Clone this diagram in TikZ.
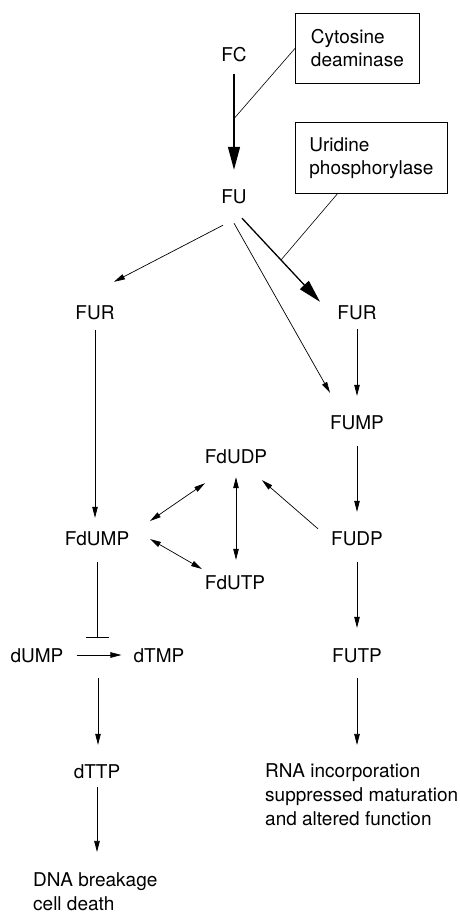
\documentclass[tikz,border=0pt]{standalone}
\usepackage{fontspec}
\setmainfont{TeX Gyre Heros}
\usetikzlibrary{arrows.meta,calc}

\tikzset{
  met/.style={font=\fontsize{19}{23}\selectfont, inner sep=0pt, text height=14pt, text depth=0pt, anchor=base},
  enz/.style={draw, line width=0.8pt, font=\fontsize{19}{23}\selectfont, align=left, anchor=north west, inner sep=0pt},
  note/.style={font=\fontsize{19}{24}\selectfont, align=left, inner sep=0pt, anchor=base west},
  arr/.style={-{Triangle[length=11pt,width=5.5pt]}, line width=0.7pt},
  darr/.style={{Triangle[length=11pt,width=5.5pt]}-{Triangle[length=11pt,width=5.5pt]}, line width=0.7pt},
  bigarr/.style={-{Triangle[length=23pt,width=12pt]}, line width=1.3pt},
  inh/.style={-{Bar[width=23pt]}, line width=0.7pt},
  link/.style={line width=0.6pt}
}

\begin{document}
\begin{tikzpicture}[x=1pt, y=-1pt]

\useasboundingbox (0,0) rectangle (459,913);

% enzymes
\node[enz, minimum width=124pt, minimum height=70pt] (cyt) at (295,13) {Cytosine\\deaminase};
\node[enz, minimum width=152pt, minimum height=71pt] (uri) at (295,122) {Uridine\\phosphorylase};

% metabolites
\node[met] (fc) at (234,61) {FC};
\node[met] (fu) at (234,203) {FU};
\node[met] (furl) at (95,319) {FUR};
\node[met] (furr) at (357,319) {FUR};
\node[met] (fump) at (357,429) {FUMP};
\node[met] (fdudp) at (236,463) {FdUDP};
\node[met] (fdump) at (97,545) {FdUMP};
\node[met] (fudp) at (357,545) {FUDP};
\node[met] (fdutp) at (235,589) {FdUTP};
\node[met] (dump) at (37,662) {dUMP};
\node[met] (dtmp) at (159,662) {dTMP};
\node[met] (futp) at (357,662) {FUTP};
\node[met] (dttp) at (97,778) {dTTP};
\node[note] (rna) at (265,825) {RNA incorporation\\suppressed maturation\\and altered function};
\node[note] (dna) at (33,910) {DNA breakage\\cell death};

\coordinate (fuout) at ($(fu.south)+(8,15)$);
\coordinate (furin) at ($(furr.north)+(-37,-3)$);
\coordinate (ts) at ($(dump.center)!0.5!(dtmp.center)$);

\draw[bigarr, shorten <=13pt, shorten >=19pt] (fc.south) -- (fu.north);
\draw[link] (cyt.west) -- ($(fc.south)!0.45!(fu.north)$);

\draw[arr] ($(fu.south)+(-11,22)$) -- ($(furl.north)+(19,-23)$);
\draw[arr] ($(fu.south)+(0,20)$) -- ($(fump.north)+(-27,-22)$);
\draw[bigarr] (fuout) -- (furin);
\draw[link] ($(uri.south)+(-34,0)$) -- ($(fuout)!0.5!(furin)$);

% right branch
\draw[arr, shorten <=10pt, shorten >=19pt] (furr.south) -- (fump.north);
\draw[arr, shorten <=17pt, shorten >=19pt] (fump.south) -- (fudp.north);
\draw[arr, shorten <=17pt, shorten >=20pt] (fudp.south) -- (futp.north);
\draw[arr, shorten <=16pt, shorten >=18pt] (futp.south) -- (futp.south |- rna.north);

% middle
\draw[darr, shorten <=14pt, shorten >=15pt] (fdudp.south) -- (fdudp.south |- fdutp.north);
\draw[darr] ($(fdump.center)+(53,-17)$) -- ($(fdudp.south)+(-31,20)$);
\draw[darr] ($(fdump.center)+(53,1)$) -- ($(fdutp.center)+(-33,-13)$);
\draw[arr] ($(fudp.north)+(-39,-2)$) -- ($(fdudp.south)+(26,17)$);

% left branch
\draw[arr, shorten <=11pt, shorten >=13pt] (furl.south) -- (furl.south |- fdump.north);
\draw[inh, shorten <=17pt, shorten >=17pt] (fdump.south) -- (fdump.south |- ts);
\draw[arr, shorten <=13pt, shorten >=12pt] (dump) -- (dtmp);
\draw[arr, shorten <=23pt, shorten >=19pt] (ts) -- (ts |- dttp.north);
\draw[arr, shorten <=9pt, shorten >=20pt] (dttp.south) -- (dttp.south |- dna.north);

\end{tikzpicture}
\end{document}
